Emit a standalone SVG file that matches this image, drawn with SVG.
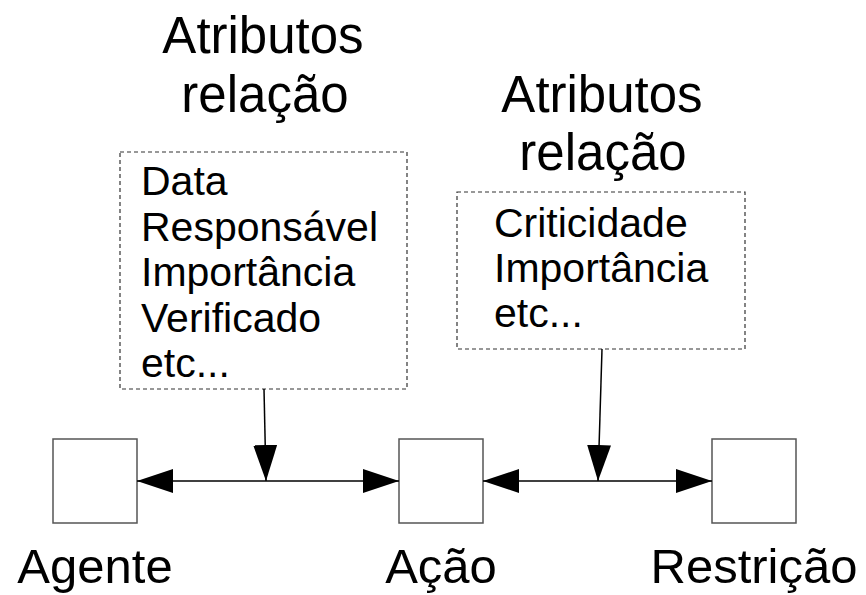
<svg xmlns="http://www.w3.org/2000/svg" width="866" height="595" viewBox="0 0 866 595">
<defs>
<style>
.t{font-family:"Liberation Sans",Arial,sans-serif;fill:#000}
.big{font-size:51px}
.lbl{font-size:49px}
.small{font-size:41px}
.box{fill:#fff;stroke:#555;stroke-width:1.5}
.dash{fill:#fff;stroke:#333;stroke-width:1.2;stroke-dasharray:4 3}
.ln{stroke:#000;stroke-width:1.5;fill:none}
</style>
<marker id="ah" markerUnits="userSpaceOnUse" markerWidth="37" markerHeight="24" refX="36" refY="12" orient="auto" viewBox="0 0 37 24">
<path d="M0,0 L36,12 L0,24 z" fill="#000"/>
</marker>
</defs>
<rect width="866" height="595" fill="#fff"/>
<g id="attr-left">
<text class="t big" x="263" y="53" text-anchor="middle">Atributos</text>
<text class="t big" x="265" y="112" text-anchor="middle">relação</text>
<rect class="dash" x="120" y="152" width="287" height="237"/>
<text class="t small" x="141" y="195">Data</text>
<text class="t small" x="141" y="241">Responsável</text>
<text class="t small" x="141" y="286">Importância</text>
<text class="t small" x="141" y="332">Verificado</text>
<text class="t small" x="141" y="377">etc...</text>
</g>
<g id="attr-right">
<text class="t big" x="602" y="112" text-anchor="middle">Atributos</text>
<text class="t big" x="603" y="170" text-anchor="middle">relação</text>
<rect class="dash" x="457" y="192" width="288" height="157"/>
<text class="t small" x="494" y="237">Criticidade</text>
<text class="t small" x="494" y="282">Importância</text>
<text class="t small" x="494" y="327">etc...</text>
</g>
<g id="agente">
<rect class="box" x="53" y="439" width="84" height="84"/>
<text class="t lbl" x="95" y="583" text-anchor="middle">Agente</text>
</g>
<g id="acao">
<rect class="box" x="399" y="439" width="84" height="84"/>
<text class="t lbl" x="441" y="583" text-anchor="middle">Ação</text>
</g>
<g id="restricao">
<rect class="box" x="712" y="439" width="84" height="84"/>
<text class="t lbl" x="754" y="583" text-anchor="middle">Restrição</text>
</g>
<g id="connectors">
<line class="ln" x1="266" y1="481" x2="137" y2="481" marker-end="url(#ah)"/>
<line class="ln" x1="266" y1="481" x2="399" y2="481" marker-end="url(#ah)"/>
<line class="ln" x1="264" y1="389" x2="266" y2="481" marker-end="url(#ah)"/>
<line class="ln" x1="598" y1="481" x2="483" y2="481" marker-end="url(#ah)"/>
<line class="ln" x1="598" y1="481" x2="712" y2="481" marker-end="url(#ah)"/>
<line class="ln" x1="602" y1="349" x2="598" y2="481" marker-end="url(#ah)"/>
</g>
</svg>
